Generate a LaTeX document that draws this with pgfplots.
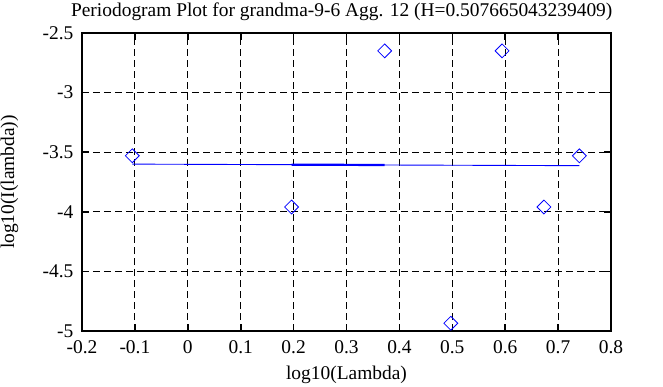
\documentclass[border=0pt]{standalone}
\usepackage{fontspec}
\setmainfont{Liberation Serif}
\usepackage{pgfplots}
\pgfplotsset{compat=1.18}
\begin{document}
\fontsize{19.5}{23}\selectfont
\begin{tikzpicture}
\useasboundingbox (-82bp,-56bp) rectangle (581bp,331bp);
\begin{axis}[
  at={(0,0)}, anchor=south west,
  scale only axis, width=529bp, height=298bp,
  xmin=-0.2, xmax=0.8, ymin=-5, ymax=-2.5,
  xtick={-0.2,-0.1,0,0.1,0.2,0.3,0.4,0.5,0.6,0.7,0.8},
  xticklabels={-0.2,-0.1,0,0.1,0.2,0.3,0.4,0.5,0.6,0.7,0.8},
  ytick={-5,-4.5,-4,-3.5,-3,-2.5},
  yticklabels={-5,-4.5,-4,-3.5,-3,-2.5},
  tick align=inside, tick pos=both, major tick length=7bp,
  grid=major,
  major grid style={black, dash pattern=on 7bp off 4bp, line width=0.9bp},
  axis line style={black, line width=1.6bp},
  every tick/.style={black, line width=1.6bp},
  ticklabel style={font=\fontsize{19.5}{23}\selectfont},
  xticklabel style={yshift=-3bp},
  yticklabel style={xshift=-2bp},
  every axis title shift=0pt,
  title={Periodogram Plot for grandma-9-6 Agg. 12 (H=0.507665043239409)},
  title style={at={(axis description cs:0.491,1.054)}, anchor=base, yshift=0pt, font=\fontsize{19.5}{23}\selectfont},
  xlabel={log10(Lambda)},
  xlabel style={at={(axis description cs:0.5,-0.148)}, anchor=center, font=\fontsize{19.5}{23}\selectfont},
  ylabel={log10(I(lambda))},
  ylabel style={at={(axis description cs:-0.137,0.5)}, anchor=center, rotate=0, font=\fontsize{19.5}{23}\selectfont},
]
\addplot[blue, line width=0.9bp] coordinates {(-0.1049,-3.600) (0.7402,-3.613)};
\addplot[blue, line width=2.2bp] coordinates {(0.1961,-3.6046) (0.3722,-3.6073)};
\addplot[only marks, mark=square, mark size=4.9bp, mark options={blue, rotate=45, line width=0.8bp}] coordinates {
(-0.1049,-3.53)
(0.1961,-3.96)
(0.3722,-2.65)
(0.4971,-4.935)
(0.5941,-2.65)
(0.6732,-3.96)
(0.7402,-3.53)
};
\end{axis}
\end{tikzpicture}
\end{document}
